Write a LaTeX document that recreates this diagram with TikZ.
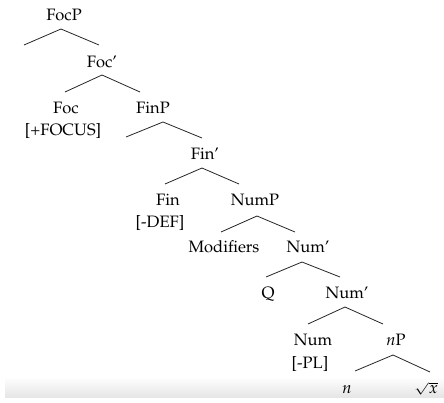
\documentclass[tikz,border=0pt]{standalone}
\usepackage[T1]{fontenc}
\usepackage{mathpazo}
\usepackage{graphicx}
\begin{document}
\begin{tikzpicture}[x=1pt,y=-1pt,
  lbl/.style={anchor=base, inner sep=0pt, font=\fontsize{16.5}{22}\selectfont},
  br/.style={line width=0.8pt, draw=black!85}]
\useasboundingbox (0,0) rectangle (444,402);
\shade[top color=white, bottom color=black!10] (5,377) rectangle (444,397);
% labels
\node[lbl] (focp) at (64,20) {FocP};
\node[lbl] (focbar) at (102,67) {Foc'};
\node[lbl] (foc) at (66,113) {Foc};
\node[lbl] (focf) at (63,135) {[+FOCUS]};
\node[lbl] (finp) at (153,113) {FinP};
\node[lbl] (finbar) at (205,159) {Fin'};
\node[lbl] (fin) at (168,205) {Fin};
\node[lbl] (find) at (160,227) {[-DEF]};
\node[lbl] (nump) at (255,205) {NumP};
\node[lbl] (mod) at (224,252) {Modifiers};
\node[lbl] (numbara) at (308,252) {Num'};
\node[lbl] (q) at (268,298) {Q};
\node[lbl] (numbarb) at (347,298) {Num'};
\node[lbl] (num) at (313,345) {Num};
\node[lbl] (numf) at (310,368) {[-PL]};
\node[lbl] (np) at (396,345) {\textit{n}P};
\node[lbl] (n) at (347,393) {\textit{n}};
\node[lbl] (root) at (426,393) {\scalebox{1}[0.7]{$\sqrt{\scalebox{1}[1.4286]{$x$}}$}};
% branch points
\coordinate (aFocP) at (61,29);  \coordinate (lFocP) at (24,45);  \coordinate (rFocP) at (99,45);
\coordinate (aFocB) at (102,75); \coordinate (lFocB) at (65,92);  \coordinate (rFocB) at (140,92);
\coordinate (aFinP) at (163,122);\coordinate (lFinP) at (126,137);\coordinate (rFinP) at (202,138);
\coordinate (aFinB) at (202,168);\coordinate (lFinB) at (165,184);\coordinate (rFinB) at (239,184);
\coordinate (aNumP) at (257,216);\coordinate (lNumP) at (221,232);\coordinate (rNumP) at (295,232);
\coordinate (aNumA) at (302,262);\coordinate (lNumA) at (266,277);\coordinate (rNumA) at (340,277);
\coordinate (aNumB) at (345,307);\coordinate (lNumB) at (308,324);\coordinate (rNumB) at (383,324);
\coordinate (anP) at (393,355);  \coordinate (lnP) at (355,371);  \coordinate (rnP) at (430,372);
% branches
\draw[br] (lFocP) -- (aFocP) -- (rFocP);
\draw[br] (lFocB) -- (aFocB) -- (rFocB);
\draw[br] (lFinP) -- (aFinP) -- (rFinP);
\draw[br] (lFinB) -- (aFinB) -- (rFinB);
\draw[br] (lNumP) -- (aNumP) -- (rNumP);
\draw[br] (lNumA) -- (aNumA) -- (rNumA);
\draw[br] (lNumB) -- (aNumB) -- (rNumB);
\draw[br] (lnP) -- (anP) -- (rnP);
\end{tikzpicture}
\end{document}
